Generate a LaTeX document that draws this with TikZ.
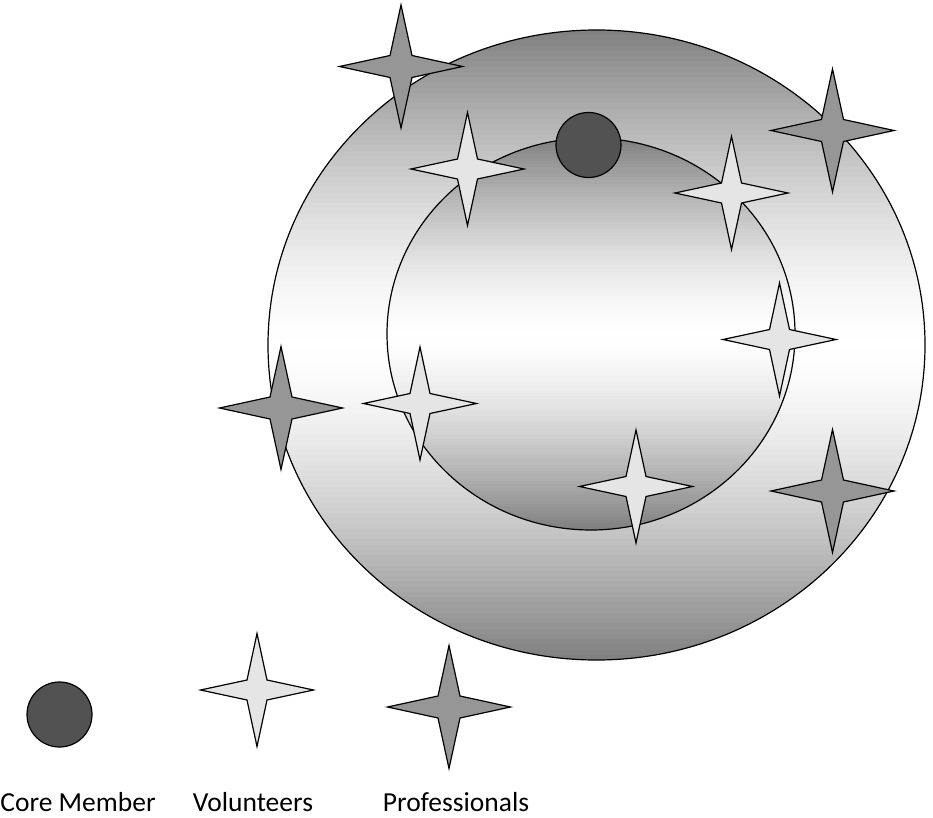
\documentclass[tikz,border=0pt]{standalone}
\usepackage{fontspec}
\setmainfont{Carlito}
\usepackage{tikz}

\begin{document}
\begin{tikzpicture}[
  x=1pt, y=-1pt,
  ring/.style={draw=black, line width=1.2pt},
  core/.style={circle, draw=black, line width=1.2pt, fill=black!68, minimum size=65pt, inner sep=0pt},
  prostar/.style={draw=black, line width=1.2pt, fill=black!41, line join=miter},
  volstar/.style={draw=black, line width=1.2pt, fill=black!10, line join=miter},
  lab/.style={font=\fontsize{27.5}{32}\selectfont, anchor=base},
]
\useasboundingbox (0,0) rectangle (933,818);

% gray -> white -> gray in horizontal strips (cx, cy, rx, ry)
\def\bandfill#1#2#3#4{%
  \begin{scope}
    \clip (#1,#2) ellipse [x radius=#3, y radius=#4];
    \pgfmathsetmacro\hh{2*#4/120}
    \foreach \i in {0,...,119} {
      \pgfmathsetmacro\gv{50*abs(2*(\i+0.5)/120-1)^1.5}
      \pgfmathsetmacro\ya{#2-#4+\i*\hh}
      \pgfmathsetmacro\yb{\ya+\hh+0.6}
      \fill[black!\gv] (#1-#3,\ya) rectangle (#1+#3,\yb);
    }
  \end{scope}
  \draw[ring] (#1,#2) ellipse [x radius=#3, y radius=#4];
}

% ------------------------------------------------------------------
% outer and inner rings
% ------------------------------------------------------------------
\bandfill{596.5}{345}{328.5}{315}
\bandfill{591}{334}{204}{196}

% the core member on the inner ring
\node[core] (coretop) at (588.5,145) {};

% ------------------------------------------------------------------
% volunteers (light) and professionals (dark)
% ------------------------------------------------------------------
\def\vs{56.5}\def\vk{10}
\def\ps{61.5}\def\pk{11}
\foreach \cx/\cy in {467.5/169, 731.5/193, 779.5/339.5, 420/403.5, 636/486.5, 257/690}
  \draw[volstar, shift={(\cx,\cy)}]
    (0,-\vs) -- (\vk,-\vk) -- (\vs,0) -- (\vk,\vk) -- (0,\vs)
    -- (-\vk,\vk) -- (-\vs,0) -- (-\vk,-\vk) -- cycle;
\foreach \cx/\cy in {401/66.5, 832.5/130.5, 281/408, 832.5/491, 449/707}
  \draw[prostar, shift={(\cx,\cy)}]
    (0,-\ps) -- (\pk,-\pk) -- (\ps,0) -- (\pk,\pk) -- (0,\ps)
    -- (-\pk,\pk) -- (-\ps,0) -- (-\pk,-\pk) -- cycle;

% ------------------------------------------------------------------
% legend
% ------------------------------------------------------------------
\node[core] (coreleg) at (59.5,714.5) {};
\node[lab] (corelab) at (78,811) {Core Member};
\node[lab] (vollab)  at (253,811) {Volunteers};
\node[lab] (prolab)  at (456,811) {Professionals};
\end{tikzpicture}
\end{document}
